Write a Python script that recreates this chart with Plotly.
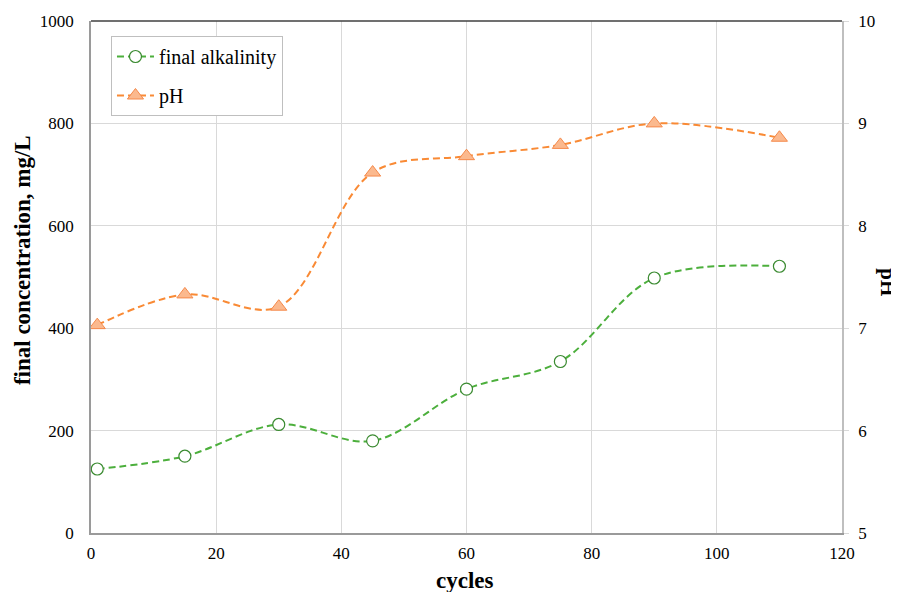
import plotly.graph_objects as go

cycles = [1, 15, 30, 45, 60, 75, 90, 110]
alkalinity = [125, 150, 212, 180, 281, 335, 498, 521]
ph = [7.03, 7.33, 7.21, 8.52, 8.68, 8.79, 9.0, 8.86]

FONT = "Liberation Serif"
AX = "#9a9a9a"
GRID = "#d9d9d9"

fig = go.Figure()
fig.add_trace(go.Scatter(
    x=cycles, y=alkalinity, name="final alkalinity", mode="lines+markers", legendgroup="a",
    line=dict(color="#4caf3c", width=2, dash="7px,4px", shape="spline", smoothing=1.0),
    marker=dict(symbol="circle", size=12, color="white", line=dict(color="#3a8a30", width=1.2)),
))
fig.add_trace(go.Scatter(
    x=cycles, y=ph, name="pH", mode="lines+markers", yaxis="y2", legendgroup="b",
    line=dict(color="#f98a35", width=2, dash="7px,4px", shape="spline", smoothing=1.0),
    marker=dict(symbol="triangle-up", size=14, color="#fbb98e", line=dict(color="#f5894a", width=1)),
))

# page body has an 8px default margin, so the figure is shifted up/left by 8px
fig.update_layout(
    width=891, height=584,
    margin=dict(l=83, r=57, t=13, b=59),
    paper_bgcolor="white", plot_bgcolor="white",
    font=dict(family=FONT, size=17, color="black"),
    showlegend=True,
    legend=dict(x=0.0266, y=0.9707, xanchor="left", yanchor="top",
                bgcolor="white", bordercolor="#bfbfbf", borderwidth=1,
                font=dict(family=FONT, size=20), tracegroupgap=10,
                itemwidth=37),
    xaxis=dict(range=[0, 120], dtick=20, showgrid=True, gridcolor=GRID,
               showline=True, linecolor=AX, linewidth=1.5, zeroline=False,
               ticks="", tickfont=dict(family=FONT, size=17), ticklabelstandoff=4,
               automargin=False),
    yaxis=dict(range=[0, 1000], dtick=200, showgrid=True, gridcolor=GRID,
               showline=True, linecolor=AX, linewidth=1.5, zeroline=False,
               ticks="", tickfont=dict(family=FONT, size=17), ticklabelstandoff=12,
               automargin=False),
    yaxis2=dict(range=[5, 10], dtick=1, overlaying="y", side="right", showgrid=False,
                showline=True, linecolor="#bfbfbf", linewidth=1.5, zeroline=False,
                ticks="outside", ticklen=5, tickcolor=GRID,
                tickfont=dict(family=FONT, size=17), ticklabelstandoff=6,
                automargin=False),
    shapes=[dict(type="line", xref="paper", yref="paper", x0=0, x1=1, y0=1, y1=1,
                 line=dict(color="#404040", width=1.5))],
    annotations=[
        dict(text="<b>final concentration, mg/L</b>", xref="paper", yref="paper",
             x=-0.0919, y=0.533, xanchor="center", yanchor="middle", textangle=-90,
             showarrow=False, font=dict(family=FONT, size=23)),
        dict(text="<b>cycles</b>", xref="paper", yref="paper",
             x=0.498, y=-0.092, xanchor="center", yanchor="middle",
             showarrow=False, font=dict(family=FONT, size=23)),
        dict(text="<b>pH</b>", xref="paper", yref="paper",
             x=1.061, y=0.49, xanchor="center", yanchor="middle", textangle=90,
             showarrow=False, font=dict(family=FONT, size=21)),
    ],
)

fig.write_html("out.html")
